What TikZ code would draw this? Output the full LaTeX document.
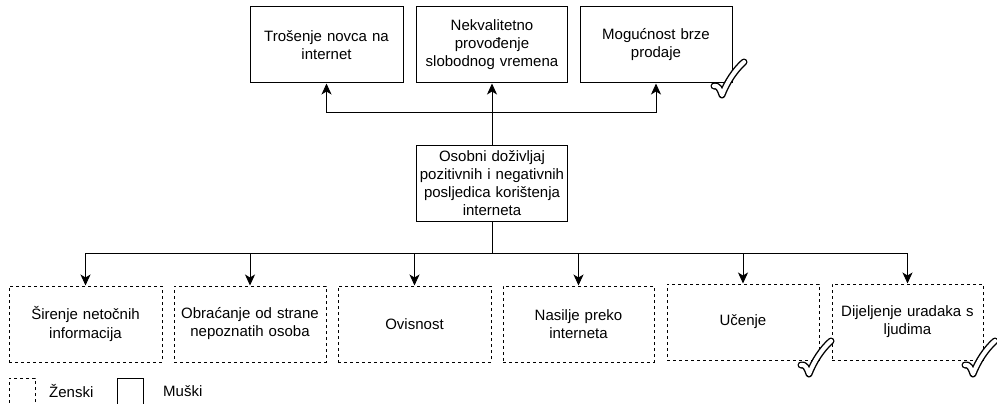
\documentclass[tikz,border=0pt]{standalone}
\usepackage{fontspec}
\setmainfont{Liberation Sans}
\usetikzlibrary{arrows.meta}
\tikzset{
  box/.style={draw, line width=1pt, minimum width=152pt, minimum height=76pt, align=center, text width=146pt, inner sep=0pt, font=\fontsize{15pt}{18pt}\selectfont},
  mbox/.style={box},
  fbox/.style={box, dash pattern=on 3pt off 3pt},
  conn/.style={line width=1pt},
  arr/.style={conn, -{Stealth[length=11pt,width=10pt,inset=3pt]}},
  lbl/.style={font=\fontsize{15pt}{18pt}\selectfont, inner sep=0pt, anchor=west},
  okmark/.pic={
    \draw[line width=7pt, line cap=round, line join=round, black] (1,26) .. controls (5,25) and (7,29) .. (9,35) .. controls (14,22) and (22,10) .. (31,2);
    \draw[line width=4.2pt, line cap=round, line join=round, white] (1,26) .. controls (5,25) and (7,29) .. (9,35) .. controls (14,22) and (22,10) .. (31,2);
  }
}
\begin{document}
\begin{tikzpicture}[x=1pt, y=-1pt]
\useasboundingbox (0,0) rectangle (997,404);
\clip (0,0) rectangle (997,404);
% top boxes
\node[mbox, minimum width=153pt] (b1) at (326.5,45) {Trošenje novca na\\internet};
\node[mbox, minimum width=151pt] (b2) at (492,45) {Nekvalitetno\\provođenje\\slobodnog vremena};
\node[mbox] (b3) at (656,45) {Mogućnost brze\\prodaje};
% center
\node[mbox, minimum width=151pt] (c) at (492,183) {Osobni doživljaj\\pozitivnih i negativnih\\posljedica korištenja\\interneta};
% bottom
\node[fbox, minimum width=153pt] (l1) at (85.5,324) {Širenje netočnih\\informacija};
\node[fbox] (l2) at (250,324) {Obraćanje od strane\\nepoznatih osoba};
\node[fbox, minimum width=153pt] (l3) at (414.5,324) {Ovisnost};
\node[fbox, minimum width=151pt] (l4) at (578.5,324) {Nasilje preko\\interneta};
\node[fbox] (l5) at (743,322) {Učenje};
\node[fbox, minimum width=151pt] (l6) at (907.5,322) {Dijeljenje uradaka s\\ljudima};
% connectors top
\coordinate (tj) at (492,113);
\draw[arr] (c.north) -- (b2.south);
\draw[arr] (tj) -| (b1.south);
\draw[arr] (tj) -| (b3.south);
% connectors bottom
\coordinate (bj) at (492,253);
\draw[conn] (c.south) -- (bj);
\draw[arr] (bj) -| (l1.north);
\draw[arr] (bj) -| (l2.north);
\draw[arr] (bj) -| (l3.north);
\draw[arr] (bj) -| (l4.north);
\draw[arr] (bj) -| (l5.north);
\draw[arr] (bj) -| (l6.north);
% check marks
\pic at (713,60) {okmark};
\pic at (800,339) {okmark};
\pic at (964,339) {okmark};
% legend
\node[draw, line width=1pt, dash pattern=on 3pt off 3pt, minimum width=26pt, minimum height=34pt, inner sep=0pt] (lf) at (22,395) {};
\node[lbl] (lft) at (49,391) {Ženski};
\node[draw, line width=1pt, minimum width=26pt, minimum height=34pt, inner sep=0pt] (lm) at (130,395) {};
\node[lbl] (lmt) at (163,391) {Muški};
\end{tikzpicture}
\end{document}
